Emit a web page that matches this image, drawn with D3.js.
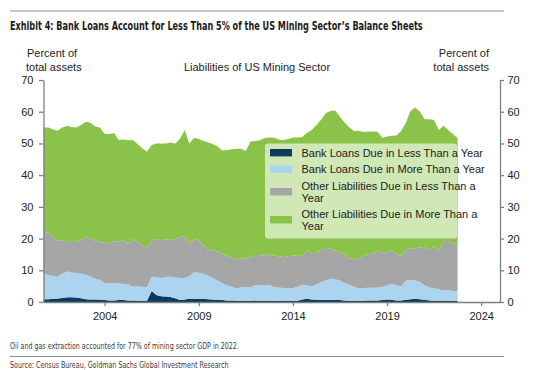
<!DOCTYPE html>
<html>
<head>
<meta charset="utf-8">
<script src="https://cdn.jsdelivr.net/npm/d3@7"></script>
<style>
  body { margin: 0; background: #fff; }
  svg { display: block; font-family: "Liberation Sans", Arial, sans-serif; }
  .cond { font-family: "Liberation Sans Narrow", "DejaVu Sans Condensed", "Liberation Sans", sans-serif; }
</style>
</head>
<body>
<svg id="chart" width="552" height="370"></svg>
<script>
// quarterly, 2000Q4 .. 2022Q4, percent of total assets
const firstQuarter = new Date(2000, 9, 1);
const bankShort = [0.9,0.9,1.0,1.1,1.3,1.5,1.5,1.4,1.2,0.9,0.8,0.8,0.8,0.6,0.5,0.5,0.6,0.6,0.5,0.5,
  0.4,0.4,0.4,3.5,2.2,1.8,1.7,1.6,1.2,0.6,0.8,1.0,1.0,1.0,1.0,0.9,0.8,0.7,0.6,0.5,
  0.5,0.4,0.4,0.4,0.4,0.5,0.4,0.4,0.4,0.4,0.3,0.3,0.3,0.3,0.4,0.8,1.0,0.8,0.7,0.6,
  0.6,0.6,0.6,0.6,0.5,0.4,0.4,0.4,0.4,0.5,0.5,0.5,0.6,0.8,0.7,0.5,0.5,0.7,0.9,1.0,
  0.9,0.7,0.5,0.4,0.4,0.4,0.4,0.3,0.3];
const bankLong = [8.1,7.6,7.2,6.9,7.7,8.1,7.8,7.7,7.7,7.7,7.2,6.5,6.2,5.4,5.3,5.6,5.2,5.1,5.2,4.3,
  4.6,4.4,4.2,4.5,5.6,5.8,6.2,6.4,6.5,7.0,6.7,7.2,8.3,8.2,7.9,7.4,6.8,6.1,5.3,4.8,
  4.3,3.9,4.2,4.3,4.2,4.8,4.9,4.8,4.9,4.4,4.3,4.1,4.0,4.0,4.4,4.6,4.3,4.2,4.8,5.6,
  6.2,6.8,6.6,6.2,5.5,5.0,4.4,3.9,4.0,4.0,4.0,4.0,4.2,4.4,5.1,4.8,4.5,6.0,6.1,5.8,
  5.4,4.5,4.1,3.9,3.6,3.2,3.3,3.2,3.2];
const otherShort = [13.2,13.3,12.4,11.3,10.3,9.6,9.6,9.9,10.7,12.0,12.0,12.1,12.0,12.7,12.7,13.2,13.1,13.9,12.6,15.2,
  14.0,13.0,12.3,11.8,12.1,11.9,12.0,11.5,12.1,12.8,13.5,10.0,10.7,10.2,8.9,8.4,8.6,9.1,9.3,9.3,
  9.3,9.2,9.0,9.1,9.6,9.5,9.5,9.5,9.8,9.8,9.8,9.7,10.1,10.4,9.8,9.1,10.9,10.4,10.0,10.3,
  10.3,9.4,9.0,8.8,9.0,8.4,8.7,9.4,10.2,10.6,10.7,11.7,10.9,10.4,10.6,9.9,9.6,9.9,9.9,10.2,
  10.9,12.2,11.7,13.1,12.2,15.6,15.5,15.3,14.0];
const otherLong = [32.8,33.2,33.9,34.7,35.7,36.4,36.3,36.0,36.2,36.2,36.5,35.9,36.0,34.3,34.5,34.0,32.2,31.6,32.7,31.1,
  30.8,30.7,30.5,29.7,30.1,30.5,30.1,30.8,30.2,31.1,33.2,31.8,31.8,32.0,33.0,33.6,33.6,33.1,32.6,33.3,
  34.1,34.8,34.7,33.8,36.4,36.0,36.2,37.0,36.8,37.2,36.8,36.9,37.0,37.2,37.3,37.5,37.2,38.8,40.3,41.0,
  42.5,43.4,44.2,42.8,41.5,41.2,40.4,40.3,39.0,38.7,38.6,37.5,36.1,36.6,36.0,37.3,39.3,39.9,43.3,44.3,
  42.8,40.2,41.3,40.0,38.0,36.4,35.0,34.2,34.2];
const seriesNames = ["Bank Loans Due in Less Than a Year", "Bank Loans Due in More Than a Year",
  "Other Liabilities Due in Less Than a Year", "Other Liabilities Due in More Than a Year"];
const colors = ["#0d3a5e", "#acd4f0", "#a6a6a6", "#8bc34a"];
const yTicks = [0, 10, 20, 30, 40, 50, 60, 70];
const xTickYears = [2004, 2009, 2014, 2019, 2024];

const svg = d3.select("#chart");
const margin = {top: 80, right: 52, bottom: 68, left: 43.5};
const width = 552, height = 370;

const rows = bankShort.map((v, i) => ({
  date: d3.timeMonth.offset(firstQuarter, i * 3),
  s0: v, s1: bankLong[i], s2: otherShort[i], s3: otherLong[i]
}));

const x = d3.scaleTime()
  .domain([firstQuarter, new Date(2025, 0, 1)])
  .range([margin.left, width - margin.right]);
const y = d3.scaleLinear()
  .domain([0, 70])
  .range([height - margin.bottom, margin.top]);

const stacked = d3.stack().keys(["s0", "s1", "s2", "s3"])(rows);
const area = d3.area()
  .x(d => x(d.data.date))
  .y0(d => y(d[0]))
  .y1(d => y(d[1]));

// condensed look: keep the font height, squeeze horizontally to the target width
const condText = (x0, y0, size, target, txt, bold) => {
  const t = svg.append("text").attr("class", "cond")
    .attr("font-size", size).attr("fill", bold ? "#1a1a1a" : "#3a3a3a")
    .attr("font-weight", bold ? "bold" : null)
    .text(txt);
  const w = t.node().getComputedTextLength();
  const k = w > 0 ? Math.min(1, target / w) : 1;
  t.attr("transform", `translate(${x0},${y0}) scale(${k.toFixed(3)},1)`);
  return t;
};

// rules + title
svg.append("line").attr("x1", 10).attr("x2", 504).attr("y1", 11).attr("y2", 11)
  .attr("stroke", "#8c8c8c").attr("stroke-width", 1);
condText(10, 29.5, 12, 413, "Exhibit 4: Bank Loans Account for Less Than 5% of the US Mining Sector’s Balance Sheets", true);

// axis titles
const lab = svg.append("g").attr("font-size", 11).attr("fill", "#222");
lab.append("text").attr("x", 27).attr("y", 57).text("Percent of");
lab.append("text").attr("x", 26).attr("y", 70.5).text("total assets");
lab.append("text").attr("x", 489).attr("y", 57).attr("text-anchor", "end").text("Percent of");
lab.append("text").attr("x", 489).attr("y", 70.5).attr("text-anchor", "end").text("total assets");
lab.append("text").attr("x", 257).attr("y", 70.5).attr("text-anchor", "middle").text("Liabilities of US Mining Sector");

// areas
svg.append("g").selectAll("path")
  .data(stacked)
  .join("path")
  .attr("fill", (d, i) => colors[i])
  .attr("d", area);

// axes
const styleAxis = g => {
  g.selectAll(".domain").attr("stroke", "#808080").attr("stroke-width", 1.3);
  g.selectAll(".tick line").attr("stroke", "#808080").attr("stroke-width", 1.3);
  g.selectAll(".tick text").attr("fill", "#222").attr("font-size", 11)
    .attr("font-family", "'Liberation Sans', Arial, sans-serif");
};
svg.append("g")
  .attr("transform", `translate(${margin.left},0)`)
  .call(d3.axisLeft(y).tickValues(yTicks).tickSize(4.5).tickPadding(5.5).tickSizeOuter(0))
  .call(styleAxis);
svg.append("g")
  .attr("transform", `translate(${width - margin.right},0)`)
  .call(d3.axisRight(y).tickValues(yTicks).tickSize(4).tickPadding(3.5).tickSizeOuter(0))
  .call(styleAxis);
svg.append("g")
  .attr("transform", `translate(0,${height - margin.bottom})`)
  .call(d3.axisBottom(x).tickValues(xTickYears.map(yr => new Date(yr, 0, 1)))
    .tickFormat(d3.timeFormat("%Y")).tickSize(4).tickPadding(6).tickSizeOuter(0))
  .call(styleAxis);

// legend
const legend = svg.append("g");
legend.append("rect").attr("x", 265).attr("y", 143.5).attr("width", 192).attr("height", 95)
  .attr("rx", 3).attr("fill", "#fff").attr("fill-opacity", 0.6);
const legRows = [
  {lines: [seriesNames[0]], y: 152.7},
  {lines: [seriesNames[1]], y: 169.3},
  {lines: ["Other Liabilities Due in Less Than a", "Year"], y: 186},
  {lines: ["Other Liabilities Due in More Than a", "Year"], y: 214}
];
legRows.forEach((r, i) => {
  const swY = r.lines.length > 1 ? r.y + 5.7 : r.y;
  legend.append("rect").attr("x", 270).attr("y", swY - 3.7).attr("width", 22).attr("height", 7.4)
    .attr("fill", colors[i]);
  r.lines.forEach((t, j) => {
    legend.append("text").attr("x", 301.5).attr("y", r.y + 4 + j * 11.5)
      .attr("font-size", 11).attr("fill", "#222").text(t);
  });
});

// footnotes
condText(10, 349, 9, 229, "Oil and gas extraction accounted for 77% of mining sector GDP in 2022.", false);
svg.append("line").attr("x1", 10).attr("x2", 504).attr("y1", 356.5).attr("y2", 356.5)
  .attr("stroke", "#8c8c8c").attr("stroke-width", 1);
condText(10, 367.5, 9, 219, "Source: Census Bureau, Goldman Sachs Global Investment Research", false);
</script>
</body>
</html>
